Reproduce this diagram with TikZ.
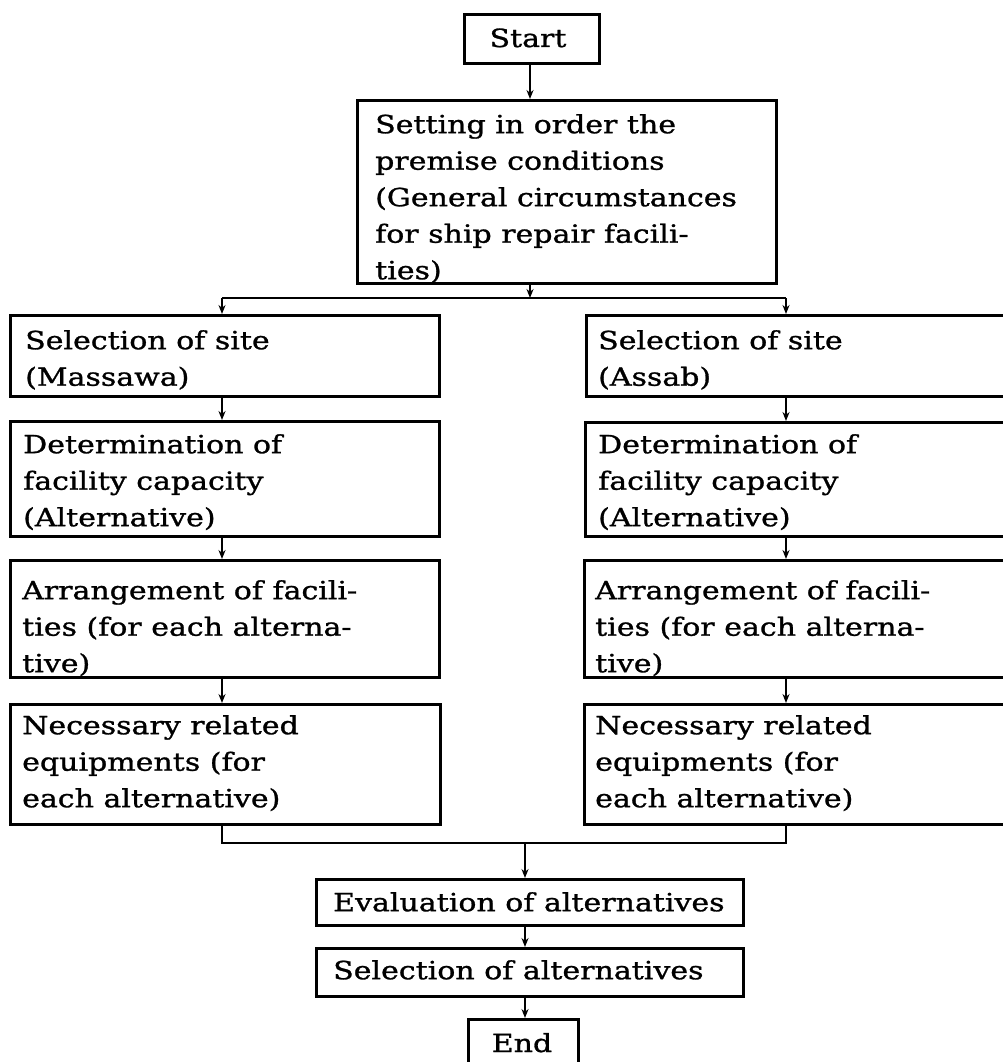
\documentclass[tikz,border=0pt]{standalone}
\usepackage{fontspec}
\setmainfont{DejaVu Serif}[FakeStretch=1.2,FakeBold=1.1]
\usetikzlibrary{arrows.meta,calc}
\begin{document}
\begin{tikzpicture}[x=1pt,y=1pt,
  box/.style={draw, line width=3pt, inner sep=0pt, anchor=north west},
  txt/.style={font=\fontsize{25}{36.5}\selectfont, align=left, inner sep=0pt, anchor=north west},
  arr/.style={line width=2.4pt, -{Stealth[length=9pt,width=7pt]}},
  ln/.style={line width=2.4pt}]
\useasboundingbox (0,0) rectangle (1003,-1062);
% boxes
\node[box, minimum width=135pt, minimum height=49pt] (start) at (463,-13) {};
\node[box, minimum width=419pt, minimum height=183pt] (big) at (356,-99) {};
\node[box, minimum width=429pt, minimum height=81pt] (L1) at (9,-314) {};
\node[box, minimum width=431pt, minimum height=81pt] (R1) at (585,-314) {};
\node[box, minimum width=429pt, minimum height=115pt] (L2) at (9,-420) {};
\node[box, minimum width=431pt, minimum height=114pt] (R2) at (584,-421) {};
\node[box, minimum width=429pt, minimum height=117pt] (L3) at (9,-559) {};
\node[box, minimum width=431pt, minimum height=117pt] (R3) at (583,-559) {};
\node[box, minimum width=430pt, minimum height=120pt] (L4) at (9,-703) {};
\node[box, minimum width=431pt, minimum height=120pt] (R4) at (583,-703) {};
\node[box, minimum width=427pt, minimum height=46pt] (eval) at (315,-878) {};
\node[box, minimum width=427pt, minimum height=48pt] (sel) at (315,-947) {};
\node[box, minimum width=110pt, minimum height=60pt] (end) at (467,-1018) {};
% texts
\node[txt, anchor=base] (start-t) at (528,-47) {Start};
\node[txt] (big-t) at (375,-114) {Setting in order the\\premise conditions\\(General circumstances\\for ship repair facili-\\ties)};
\node[txt] (L1-t) at (25,-330) {Selection of site\\(Massawa)};
\node[txt] (R1-t) at (598,-330) {Selection of site\\(Assab)};
\node[txt] (L2-t) at (23,-434) {Determination of\\facility capacity\\(Alternative)};
\node[txt] (R2-t) at (598,-434) {Determination of\\facility capacity\\(Alternative)};
\node[txt] (L3-t) at (22,-580) {Arrangement of facili-\\ties (for each alterna-\\tive)};
\node[txt] (R3-t) at (595,-580) {Arrangement of facili-\\ties (for each alterna-\\tive)};
\node[txt] (L4-t) at (22,-715) {Necessary related\\equipments (for\\each alternative)};
\node[txt] (R4-t) at (595,-715) {Necessary related\\equipments (for\\each alternative)};
\node[txt] (eval-t) at (333,-892) {Evaluation of alternatives};
\node[txt] (sel-t) at (333,-960) {Selection of alternatives};
\node[txt, anchor=base] (end-t) at (522,-1052) {End};
% connector columns
\coordinate (mid) at (530,0);
\coordinate (colL) at (222,0);
\coordinate (colR) at (786,0);
\coordinate (branch) at (0,-298);
\coordinate (join) at (0,-843);
\coordinate (cen) at (525,0);
% connectors
\draw[arr] (start.south -| mid) -- (big.north -| mid);
\draw[arr] (big.south -| mid) -- (branch -| mid);
\draw[ln] (branch -| colL) -- (branch -| colR);
\draw[arr] (branch -| colL) -- (L1.north -| colL);
\draw[arr] (branch -| colR) -- (R1.north -| colR);
\draw[arr] (L1.south -| colL) -- (L2.north -| colL);
\draw[arr] (L2.south -| colL) -- (L3.north -| colL);
\draw[arr] (L3.south -| colL) -- (L4.north -| colL);
\draw[arr] (R1.south -| colR) -- (R2.north -| colR);
\draw[arr] (R2.south -| colR) -- (R3.north -| colR);
\draw[arr] (R3.south -| colR) -- (R4.north -| colR);
\draw[ln] (L4.south -| colL) |- (join -| cen) -| (R4.south -| colR);
\draw[arr] (join -| cen) -- (eval.north -| cen);
\draw[arr] (eval.south -| cen) -- (sel.north -| cen);
\draw[arr] (sel.south -| cen) -- (end.north -| cen);
\end{tikzpicture}
\end{document}
